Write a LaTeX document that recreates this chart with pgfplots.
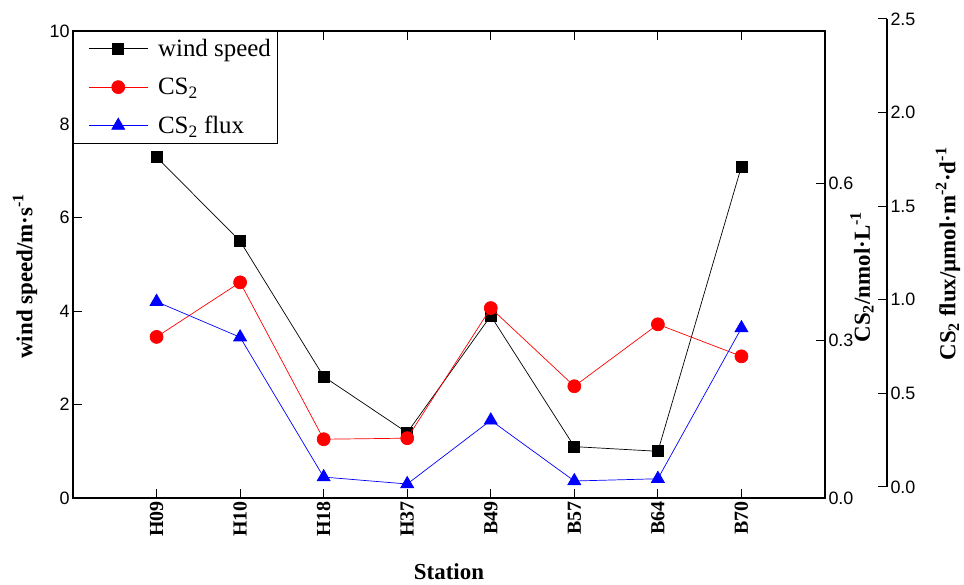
\documentclass[border=0pt]{standalone}
\usepackage{fontspec}
\setmainfont{Liberation Serif}
\newfontfamily\arial{Liberation Sans}
\usepackage{pgfplots}
\usepackage{pgfplotstable}
\pgfplotsset{compat=1.18}

\pgfplotstableread{
idx wind cs flux
0 7.30 0.307 0.990
1 5.50 0.411 0.800
2 2.60 0.112 0.053
3 1.40 0.114 0.016
4 3.90 0.362 0.356
5 1.10 0.213 0.032
6 1.00 0.331 0.044
7 7.10 0.270 0.849
}\stationdata

\newcommand\tickfont{\arial\fontsize{18}{20}\selectfont}
\newcommand\labelfont{\bfseries\fontsize{23}{25}\selectfont}

\pgfplotsset{
  common/.style={
    scale only axis,
    anchor=south west,
    tick align=inside,
    major tick length=9bp,
    axis line style={line width=1.2bp},
    every tick/.style={black, line width=1bp},
    /pgf/number format/assume math mode=true,
    yticklabel style={font=\tickfont},
  },
  onedec/.style={
    yticklabel style={/pgf/number format/.cd, fixed, fixed zerofill, precision=1},
  },
}

\begin{document}
\begin{tikzpicture}
% wind speed (left axis, full frame)
\begin{axis}[
  common,
  at={(73bp,87bp)},
  width=752bp, height=467bp,
  xmin=-1, xmax=8, ymin=0, ymax=10,
  xtick={0,...,7},
  xticklabels={H09,H10,H18,H37,B49,B57,B64,B70},
  xtick pos=both, xticklabel pos=bottom,
  ytick={0,2,...,10}, ytick pos=left,
  x tick label style={rotate=90, anchor=east, font=\bfseries\fontsize{20}{22}\selectfont},
  xlabel={Station},
  xlabel style={at={(axis description cs:0.5,-0.158)}, anchor=center, font=\labelfont},
  ylabel={wind speed/m·s\textsuperscript{-1}},
  ylabel style={at={(axis description cs:-0.0638,0.475)}, anchor=center, font=\labelfont},
  legend style={at={(0,1)}, anchor=north west, draw=black, line width=0.8bp,
    font=\fontsize{25}{27}\selectfont, inner xsep=5bp, inner ysep=6bp,
    row sep=16bp, column sep=8bp},
  legend cell align=left,
  legend image code/.code={\path (0bp,0bp);
    \draw[mark repeat=2,mark phase=2,#1]
    plot coordinates {(10bp,0bp) (39.5bp,0bp) (69bp,0bp)};},
]
\addplot[black, line width=0.7bp, mark=square*, mark size=5.5bp, mark options={solid}]
  table[x=idx, y=wind] {\stationdata};
\addlegendentry{wind speed}
\addlegendimage{red, line width=0.7bp, mark=*, mark size=6.5bp}
\addlegendentry{CS\textsubscript{2}}
\addlegendimage{blue, line width=0.7bp, mark=triangle*, mark size=7.5bp}
\addlegendentry{CS\textsubscript{2} flux}
\end{axis}

% CS2 concentration (inner right axis)
\begin{axis}[
  common, onedec,
  at={(73bp,87bp)},
  width=752bp, height=467bp,
  xmin=-1, xmax=8, ymin=0, ymax=0.89,
  axis y line*=right, axis x line=none,
  ytick={0,0.3,0.6},
  ylabel={CS\textsubscript{2}/nmol·L\textsuperscript{-1}},
  ylabel style={at={(axis description cs:1.0492,0.473)}, anchor=center, font=\labelfont},
]
\addplot[red, line width=0.7bp, mark=*, mark size=6.5bp]
  table[x=idx, y=cs] {\stationdata};
\end{axis}

% CS2 flux (outer right axis)
\begin{axis}[
  common, onedec,
  at={(73bp,98bp)},
  width=814bp, height=468bp,
  xmin=-1, xmax=8.742, ymin=0, ymax=2.5,
  axis y line*=right, axis x line=none,
  ytick={0,0.5,...,2.5},
  clip=false,
  ylabel={CS\textsubscript{2} flux/µmol·m\textsuperscript{-2}·d\textsuperscript{-1}},
  ylabel style={at={(axis description cs:1.0749,0.498)}, anchor=center, font=\labelfont},
]
\addplot[blue, line width=0.7bp, mark=triangle*, mark size=7.5bp]
  table[x=idx, y=flux] {\stationdata};
\end{axis}

\pgfresetboundingbox
\path[use as bounding box] (0,0) rectangle (964bp,585bp);
\end{tikzpicture}
\end{document}
